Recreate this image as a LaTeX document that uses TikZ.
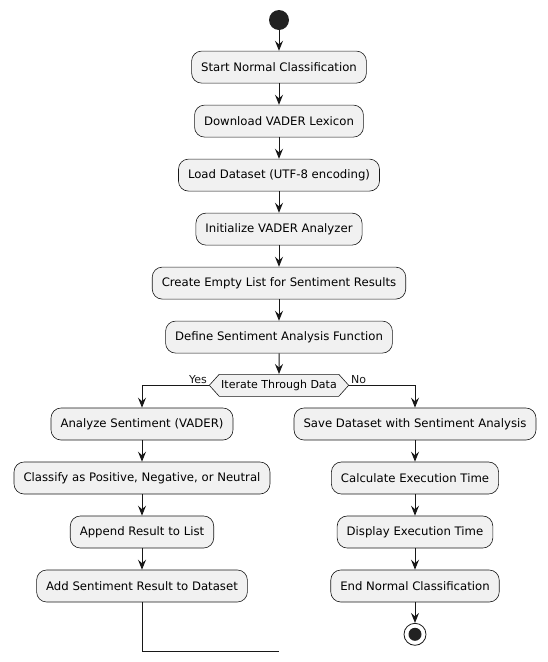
\documentclass[tikz,border=0pt]{standalone}
\usepackage{fontspec}
\setmainfont{DejaVu Sans}
\usetikzlibrary{arrows.meta, positioning, shapes.symbols}
\definecolor{boxfill}{HTML}{F1F1F1}
\definecolor{boxline}{HTML}{181818}
\definecolor{dotfill}{HTML}{222222}

\begin{document}
\begin{tikzpicture}[x=1pt, y=-1pt]
	\tikzset{>={Stealth[length=10pt, width=8pt, inset=3.5pt]}, node distance=21.4pt,
		act/.style={draw=boxline, fill=boxfill, line width=0.6pt, rounded corners=10pt, minimum height=32pt, inner xsep=9.5pt, font=\fontsize{11.7}{14}\selectfont},
		test/.style={draw=boxline, fill=boxfill, line width=0.6pt, signal, signal to=east and west, signal pointer angle=96, minimum height=22pt, inner xsep=2pt, inner ysep=0pt, font=\fontsize{11}{13}\selectfont},
		flow/.style={->, line width=1pt, boxline},
		lbl/.style={font=\fontsize{11}{13}\selectfont, inner sep=1.5pt}}
	\useasboundingbox (0,0) rectangle (548,662);

	\node[circle, fill=dotfill, minimum size=20pt, inner sep=0pt] (start) at (279,20) {};
	\node[act, below=20.6pt of start] (begin) {Start Normal Classification};
	\node[act, below=of begin] (lexicon) {Download VADER Lexicon};
	\node[act, below=of lexicon] (load) {Load Dataset (UTF-8 encoding)};
	\node[act, below=of load] (init) {Initialize VADER Analyzer};
	\node[act, below=of init] (list) {Create Empty List for Sentiment Results};
	\node[act, below=of list] (define) {Define Sentiment Analysis Function};
	\node[test, below=20.6pt of define] (iter) {Iterate Through Data};

	% loop body
	\node[act] (analyze) at (142,424) {Analyze Sentiment (VADER)};
	\node[act, below=of analyze] (classify) {Classify as Positive, Negative, or Neutral};
	\node[act, below=of classify] (append) {Append Result to List};
	\node[act, below=of append] (add) {Add Sentiment Result to Dataset};
	\coordinate (back) at (279,651);

	% after the loop
	\node[act] (save) at (415,424) {Save Dataset with Sentiment Analysis};
	\node[act, below=of save] (exec) {Calculate Execution Time};
	\node[act, below=of exec] (show) {Display Execution Time};
	\node[act, below=of show] (finish) {End Normal Classification};
	\node[circle, draw=boxline, fill=white, line width=0.8pt, minimum size=22pt, inner sep=0pt, below=20.6pt of finish] (stop) {};
	\fill[dotfill] (stop) circle (6.5pt);

	\draw[flow] (start) -- (begin);
	\draw[flow] (begin) -- (lexicon);
	\draw[flow] (lexicon) -- (load);
	\draw[flow] (load) -- (init);
	\draw[flow] (init) -- (list);
	\draw[flow] (list) -- (define);
	\draw[flow] (define) -- (iter);
	\draw[flow] (iter.west) -| node[lbl, pos=0, above left] {Yes} (analyze);
	\draw[flow] (iter.east) -| node[lbl, pos=0, above right] {No} (save);
	\draw[flow] (analyze) -- (classify);
	\draw[flow] (classify) -- (append);
	\draw[flow] (append) -- (add);
	\draw[line width=1pt, boxline] (add) |- (back);
	\draw[flow] (save) -- (exec);
	\draw[flow] (exec) -- (show);
	\draw[flow] (show) -- (finish);
	\draw[flow] (finish) -- (stop);
\end{tikzpicture}
\end{document}
